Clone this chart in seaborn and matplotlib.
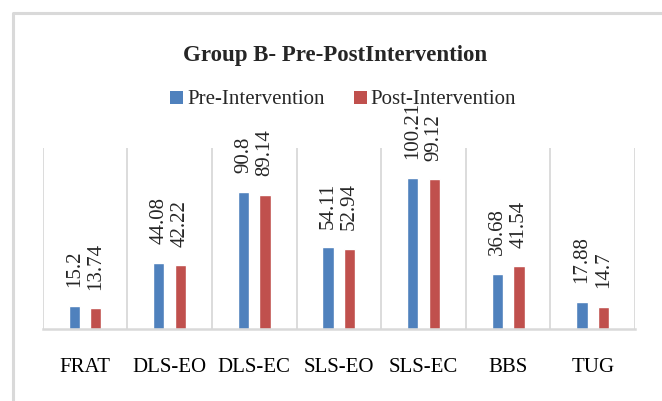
import matplotlib
matplotlib.use("Agg")
import matplotlib.pyplot as plt
from matplotlib.lines import Line2D
from matplotlib.patches import Patch
import seaborn as sns
import pandas as pd

categories = ["FRAT", "DLS-EO", "DLS-EC", "SLS-EO", "SLS-EC", "BBS", "TUG"]
pre_values = [15.2, 44.08, 90.8, 54.11, 100.21, 36.68, 17.88]
post_values = [13.74, 42.22, 89.14, 52.94, 99.12, 41.54, 14.7]
series_names = ["Pre-Intervention", "Post-Intervention"]
title_text = "Group B- Pre-PostIntervention"
colors = ["#4F81BD", "#C0504D"]

df = pd.DataFrame({
    "Test": categories * 2,
    "Value": pre_values + post_values,
    "Period": [series_names[0]] * len(categories) + [series_names[1]] * len(categories),
})

sns.set_style("white")
plt.rcParams["font.family"] = ["Liberation Serif", "DejaVu Serif"]

W, H = 662, 401
fig = plt.figure(figsize=(W / 100, H / 100), dpi=100)
ax = fig.add_axes([42.7 / W, (H - 329) / H, (635 - 42.7) / W, (329 - 148) / H])

sns.barplot(data=df, x="Test", y="Value", hue="Period", order=categories,
            hue_order=series_names, palette=colors, width=0.51, gap=0.475,
            errorbar=None, ax=ax, legend=False, saturation=1)

ax.set_ylim(0, 120)
ax.set_xlim(-0.5, len(categories) - 0.5)
ax.set_xlabel("")
ax.set_ylabel("")
ax.set_yticks([])
for s in ["top", "right", "left"]:
    ax.spines[s].set_visible(False)
ax.spines["bottom"].set_color("#d9d9d9")
ax.spines["bottom"].set_linewidth(1.8)
for i in range(len(categories) + 1):
    ax.axvline(i - 0.5, color="#d9d9d9", lw=1.3, zorder=0)

ax.tick_params(axis="x", length=0, pad=21, labelsize=15, colors="black")

for cont, vals in zip(ax.containers, [pre_values, post_values]):
    ax.bar_label(cont, labels=[f"{v:g}" for v in vals], rotation=90,
                 padding=13.5, fontsize=15)

handles = [Patch(facecolor=c, edgecolor="none") for c in colors]
ax.legend(handles, series_names, loc="center", bbox_to_anchor=(343 / W, 1 - 100 / H),
          bbox_transform=fig.transFigure, ncol=2, frameon=False, fontsize=15,
          handlelength=0.62, handleheight=0.6, handletextpad=0.2,
          columnspacing=1.4)

fig.text(335 / W, 1 - 55 / H, title_text, ha="center", va="center",
         fontsize=16.5, fontweight="bold")

fig.add_artist(Line2D([13 / W, 13 / W, 1.0], [0.0, 1 - 12.5 / H, 1 - 12.5 / H],
                      transform=fig.transFigure, color="#d9d9d9", lw=2.2))

fig.savefig("out.png", dpi=100)
